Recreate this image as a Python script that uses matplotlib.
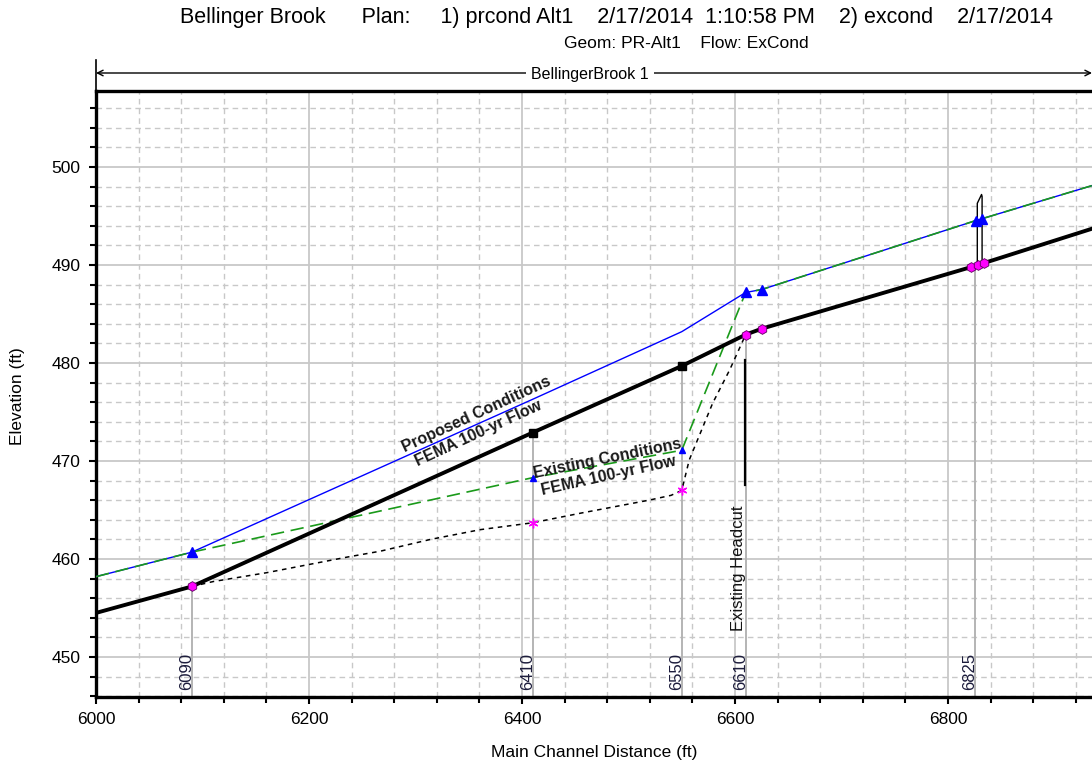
import numpy as np
import matplotlib
matplotlib.use('Agg')
from matplotlib import pyplot as plt
from matplotlib.lines import Line2D

plt.rcParams['font.family'] = ['Liberation Sans', 'DejaVu Sans']

# profile stations (ft) and elevations (ft)
sta = [6000, 6090, 6410, 6550, 6610, 6625, 6825, 6935]
prop_ground = [454.5, 457.2, 472.9, 479.7, 482.9, 483.5, 489.9, 493.7]
prop_ws = [458.2, 460.7, 476.3, 483.2, 487.2, 487.5, 494.5, 498.1]
exist_ws = [458.2, 460.7, 468.3, 471.1, 487.2, 487.5, 494.5, 498.1]

exist_gr_sta = [6090, 6110, 6160, 6236, 6267, 6314, 6361, 6410, 6456, 6519,
                6540, 6550, 6557, 6579, 6595, 6610, 6625, 6825, 6935]
exist_gr = [457.2, 457.7, 458.6, 460.2, 460.8, 462.0, 463.0, 463.7, 464.7, 466.0,
            466.5, 467.0, 470.1, 475.9, 479.3, 482.9, 483.5, 489.9, 493.7]

# cross sections
xs_sta = [6090, 6410, 6550, 6610, 6825]
xs_names = ['6090', '6410', '6550', '6610', '6825']
pink_sta = [6090, 6610, 6625, 6822, 6828, 6834]
tri_sta = [6090, 6610, 6625, 6826, 6832]
small_sta = [6410, 6550]

# bridge outline at 6825
bridge_x = [6827.5, 6827.5, 6831.5, 6832, 6832]
bridge_y = [490.0, 496.3, 497.2, 497.0, 490.0]

headcut_x = 6609
headcut_y = [467.6, 480.3]

fig = plt.figure(figsize=(10.92, 7.66), dpi=100)
ax = fig.add_axes([96/1092, 1-697/766, 996/1092, 606/766])
ax.set_xlim(6000, 6935.2)
ax.set_ylim(445.92, 507.76)

ax.set_xticks(np.arange(6000, 6801, 200))
ax.set_yticks(np.arange(450, 501, 10))
ax.set_xticks(np.arange(6040, 6935, 40), minor=True)
ax.set_yticks(np.arange(446, 508, 2), minor=True)
ax.grid(which='major', color='#c8c8c8', lw=1.3, ls='-', zorder=0)
ax.grid(which='minor', color='#c8c8c8', lw=1.0, ls=(0, (4, 3)), zorder=0)
ax.set_axisbelow(True)
ax.tick_params(which='both', direction='out', width=1.5, colors='black',
               labelsize=12.5, top=False, right=False)
ax.tick_params(which='major', length=5, pad=6)
ax.tick_params(which='minor', length=4)
for s in ['left', 'bottom', 'top']:
    ax.spines[s].set_linewidth(2.4)
ax.spines['right'].set_visible(False)

# section lines and labels
for xs, name in zip(xs_sta, xs_names):
    top = np.interp(xs, sta, prop_ground)
    ax.plot([xs, xs], [445.92, top], color='#b4b4b4', lw=1.4, zorder=1)
    ax.text(xs - 5, 446.6, name, rotation=90, ha='center', va='bottom',
            fontsize=12, color='#1c1c3c', zorder=2)

# water surfaces
ax.plot(sta, prop_ws, color='blue', lw=1.0, zorder=3)
ax.plot(sta, exist_ws, color='#1a9a1a', lw=1.2, ls=(0, (8, 4)), zorder=4)

# ground lines
ax.plot(sta, prop_ground, color='black', lw=2.8, zorder=5)
ax.plot(exist_gr_sta, exist_gr, color='black', lw=1.1, ls=(0, (3, 3)), zorder=4)

# markers
ax.plot(pink_sta, np.interp(pink_sta, sta, prop_ground), ls='none', marker='h',
        ms=7, mfc='magenta', mec='#600060', mew=0.6, zorder=6)
ax.plot(tri_sta, np.interp(tri_sta, sta, prop_ws), ls='none', marker='^',
        ms=7, color='blue', zorder=6)
ax.plot(small_sta, np.interp(small_sta, sta, exist_ws), ls='none', marker='^',
        ms=4, color='blue', zorder=6)
ax.plot(small_sta, np.interp(small_sta, exist_gr_sta, exist_gr), ls='none',
        marker=(6, 2, 0), ms=7, color='magenta', mew=1.0, zorder=6)
ax.plot(small_sta, np.interp(small_sta, sta, prop_ground), ls='none', marker='s',
        ms=6, color='black', zorder=6)

ax.plot(bridge_x, bridge_y, color='black', lw=1.0, zorder=5)
ax.plot([headcut_x, headcut_x], headcut_y, color='black', lw=1.6, zorder=5)
ax.text(6603.5, 459.1, 'Existing Headcut', rotation=90, ha='center', va='center',
        fontsize=12, color='#111111', zorder=7)

# annotations
ann = dict(fontsize=11.5, fontweight='bold', color='#1a1a1a', ha='center',
           va='center', rotation_mode='anchor', zorder=7)
ax.text(6357, 474.8, 'Proposed Conditions', rotation=24.7, **ann)
ax.text(6359, 472.8, 'FEMA 100-yr Flow', rotation=24.7, **ann)
ax.text(6480, 470.2, 'Existing Conditions', rotation=11.5, **ann)
ax.text(6481, 468.5, 'FEMA 100-yr Flow', rotation=12.5, **ann)

# titles
fig.text(617/1092, 1-18/766,
         'Bellinger Brook      Plan:     1) prcond Alt1    2/17/2014  1:10:58 PM    2) excond    2/17/2014',
         ha='center', va='center', fontsize=15.5)
fig.text(686/1092, 1-44/766, 'Geom: PR-Alt1    Flow: ExCond', ha='center',
         va='center', fontsize=12.5)

# reach bar
fig.add_artist(Line2D([96/1092, 96/1092], [1-60/766, 1-91/766],
                      transform=fig.transFigure, color='black', lw=1.2))
ax.annotate('', xy=(6000, 1-(73-91)/606), xytext=(6935.2, 1-(73-91)/606),
            xycoords=('data', 'axes fraction'), textcoords=('data', 'axes fraction'),
            arrowprops=dict(arrowstyle='<->', color='black', lw=1.0,
                            shrinkA=0, shrinkB=0), annotation_clip=False)
fig.text(590/1092, 1-75/766, 'BellingerBrook 1', ha='center', va='center', fontsize=11.5,
         bbox=dict(facecolor='white', edgecolor='none', pad=4))

fig.text(18/1092, 1-396/766, 'Elevation (ft)', rotation=90, ha='center', va='center',
         fontsize=12.5)
fig.text(594/1092, 1-752/766, 'Main Channel Distance (ft)', ha='center', va='center',
         fontsize=12.5)

fig.savefig('out.png', dpi=100)
